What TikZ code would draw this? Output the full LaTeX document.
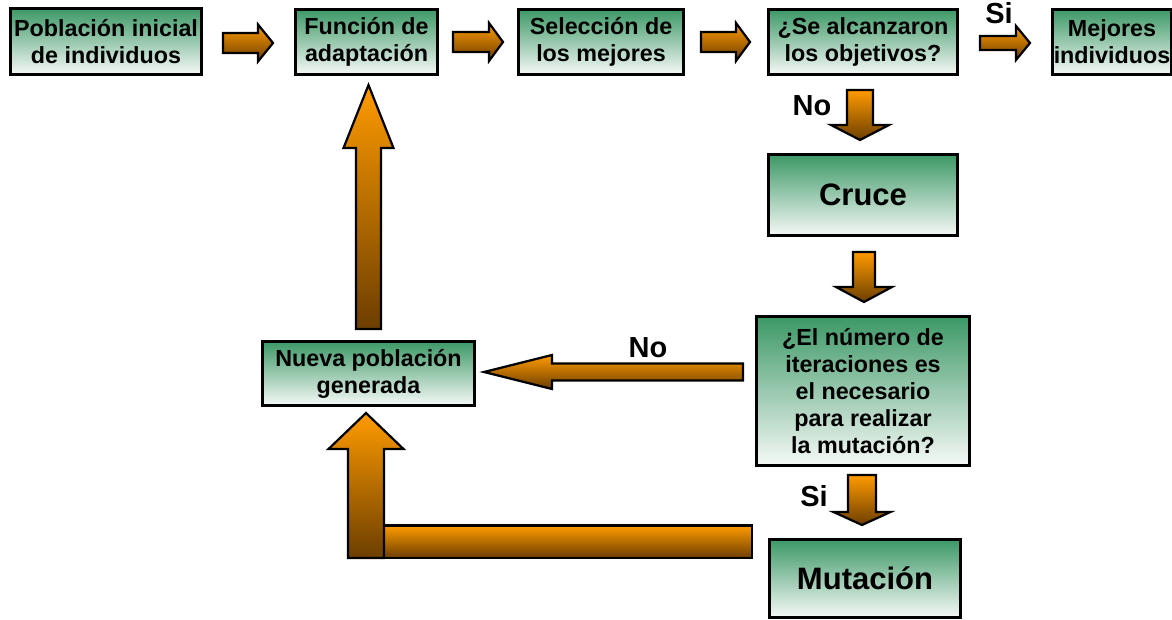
\documentclass[tikz,border=0pt]{standalone}
\usepackage{fontspec}
\setmainfont{Liberation Sans}
\usetikzlibrary{calc}
\definecolor{boxgreen}{RGB}{60,152,102}
\definecolor{boxwhite}{RGB}{246,249,247}
\definecolor{arrtop}{RGB}{255,155,0}
\definecolor{arrbot}{RGB}{108,62,0}
\tikzset{
  flowbox/.style={draw=black, line width=3pt, top color=boxgreen, bottom color=boxwhite,
    rectangle, inner sep=0pt, align=center, font=\fontsize{23.3}{27}\selectfont\bfseries},
  bigbox/.style={flowbox, font=\fontsize{31}{36}\selectfont\bfseries},
  blockarrow/.style={draw=black, line width=2.2pt, line join=miter, top color=arrtop, bottom color=arrbot},
  lbl/.style={inner sep=0pt, font=\fontsize{29}{33}\selectfont\bfseries}
}
% #1 start coord, #2 tip coord, #3 shaft half width, #4 head half width, #5 head length
\newcommand\blockarr[5]{%
  \coordinate (bh) at ($(#2)!#5!(#1)$);
  \path[blockarrow] ($(#1)!#3!90:(#2)$) -- ($(bh)!#3!90:(#2)$) -- ($(bh)!#4!90:(#2)$) -- (#2)
    -- ($(bh)!#4!-90:(#2)$) -- ($(bh)!#3!-90:(#2)$) -- ($(#1)!#3!-90:(#2)$) -- cycle;}
\begin{document}
\begin{tikzpicture}[x=1pt,y=-1pt]
\useasboundingbox (0,0) rectangle (1172,620);

% boxes
\node[flowbox, minimum width=191pt, minimum height=66pt] (b1) at (106,41.5) {Población inicial\\de individuos};
\node[flowbox, minimum width=142pt, minimum height=65pt] (b2) at (366.5,42) {Función de\\adaptación};
\node[flowbox, minimum width=165pt, minimum height=65pt] (b3) at (601,42) {Selección de\\los mejores};
\node[flowbox, minimum width=189pt, minimum height=65pt] (b4) at (863,42) {¿Se alcanzaron\\los objetivos?};
\node[flowbox, minimum width=119pt, minimum height=65pt] (b5) at (1112,42) {Mejores\\individuos};
\node[bigbox, minimum width=189pt, minimum height=81pt] (cruce) at (863,195) {Cruce};
\node[flowbox, minimum width=213pt, minimum height=149pt] (iter) at (863,391) {¿El número de\\iteraciones es\\el necesario\\para realizar\\la mutación?};
\node[bigbox, minimum width=191pt, minimum height=78pt] (mut) at (865,578.5) {Mutación};
\node[flowbox, minimum width=212pt, minimum height=64pt] (nueva) at (368.5,373.5) {Nueva población\\generada};

% arrow end points
\coordinate (a1s) at (223,43);  \coordinate (a1e) at (273,43);
\coordinate (a2s) at (453,42);  \coordinate (a2e) at (503,42);
\coordinate (a3s) at (701,42);  \coordinate (a3e) at (750,42);
\coordinate (a4s) at (980,43);  \coordinate (a4e) at (1030,43);
\coordinate (d1s) at (860,90);  \coordinate (d1e) at (860,140);
\coordinate (d2s) at (864,252); \coordinate (d2e) at (864,302);
\coordinate (d3s) at (862,475); \coordinate (d3e) at (862,525);
\coordinate (l1s) at (743,372); \coordinate (l1e) at (484,372);
\coordinate (u1s) at (368.5,329); \coordinate (u1e) at (368.5,85);
\coordinate (u2s) at (366,558); \coordinate (u2e) at (366,413);
\coordinate (barL) at (384,525.5); \coordinate (barR) at (752,558);

\blockarr{a1s}{a1e}{10pt}{18.5pt}{15pt}
\blockarr{a2s}{a2e}{10pt}{19pt}{14pt}
\blockarr{a3s}{a3e}{10pt}{19pt}{14pt}
\blockarr{a4s}{a4e}{7pt}{17pt}{14pt}
\blockarr{d1s}{d1e}{13pt}{29pt}{15pt}
\blockarr{d2s}{d2e}{11pt}{28pt}{15pt}
\blockarr{d3s}{d3e}{14pt}{28.5pt}{13pt}
\blockarr{l1s}{l1e}{8.5pt}{17pt}{68pt}
\blockarr{u1s}{u1e}{12.5pt}{25pt}{63pt}
\path[blockarrow] (barL) rectangle (barR);
\blockarr{u2s}{u2e}{18pt}{37.5pt}{36pt}

% labels
\node[lbl] (siTop) at (999,13) {Si};
\node[lbl] (noTop) at (812,106) {No};
\node[lbl] (noMid) at (648,347.5) {No};
\node[lbl] (siBot) at (814,496) {Si};
\end{tikzpicture}
\end{document}
